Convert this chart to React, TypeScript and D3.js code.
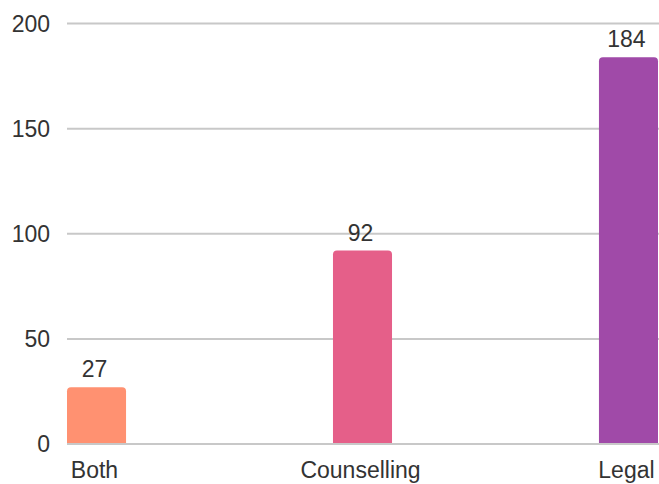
import React from "react";
import * as d3 from "d3";

const categories = ["Both", "Counselling", "Legal"];
const values = [27, 92, 184];
const colors = ["#ff9171", "#e55f89", "#a04aa8"];
const yTicks = [0, 50, 100, 150, 200];

const W = 659;
const H = 484;

export default function App() {
  const x = d3.scaleBand<string>().domain(categories).range([67, 658]).paddingInner(0.778).paddingOuter(0);
  const y = d3.scaleLinear().domain([0, 200]).range([444, 23.5]);
  const bw = x.bandwidth();
  const r = 4;
  const font = "'Liberation Sans', Arial, sans-serif";
  const fs = 23;

  const barPath = (x0: number, y0: number, w: number, h: number) => {
    const rr = Math.min(r, h);
    return `M${x0},${y0 + h}V${y0 + rr}Q${x0},${y0} ${x0 + rr},${y0}H${x0 + w - rr}Q${x0 + w},${y0} ${x0 + w},${y0 + rr}V${y0 + h}Z`;
  };

  return (
    <svg width={W} height={H} style={{ position: "absolute", left: 0, top: 0, background: "#fff" }}>
      {yTicks.map((t) => (
        <g key={t}>
          <line x1={67} x2={659} y1={y(t)} y2={y(t)} stroke="#c8c8c8" strokeWidth={2} />
          <text x={50} y={y(t) + 8} textAnchor="end" fontFamily={font} fontSize={fs} fill="#333">
            {t}
          </text>
        </g>
      ))}
      {categories.map((c, i) => {
        const x0 = x(c)!;
        const y0 = y(values[i]);
        return (
          <g key={c}>
            <path d={barPath(x0, y0, bw, y(0) - 1 - y0)} fill={colors[i]} />
            <text x={x0 + bw / 2 - 2} y={y0 - 10} textAnchor="middle" fontFamily={font} fontSize={fs} fill="#333">
              {values[i]}
            </text>
            <text x={x0 + bw / 2 - 2} y={478} textAnchor="middle" fontFamily={font} fontSize={fs} fill="#333">
              {c}
            </text>
          </g>
        );
      })}
    </svg>
  );
}
